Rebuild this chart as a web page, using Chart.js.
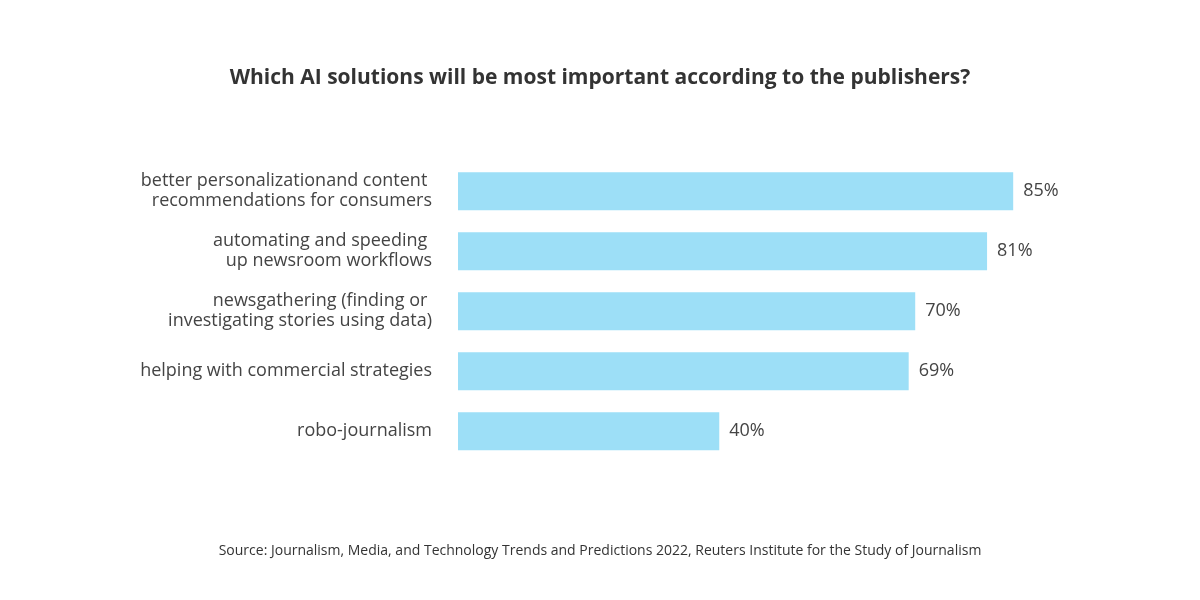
<!DOCTYPE html>
<html>
<head>
<meta charset="utf-8">
<script src="https://cdn.jsdelivr.net/npm/chart.js@4"></script>
<style>
html,body{margin:0;padding:0;background:#fff;}
#wrap{width:1200px;height:600px;position:relative;}
</style>
</head>
<body>
<div id="wrap"><canvas id="c" width="1200" height="600"></canvas></div>
<script>
const categories = [
  ["better personalizationand content ", "recommendations for consumers"],
  ["automating and speeding ", "up newsroom workflows"],
  ["newsgathering (finding or ", "investigating stories using data)"],
  "helping with commercial strategies",
  "robo-journalism"
];
const values = [85, 81, 70, 69, 40];
const valueLabels = ["85%", "81%", "70%", "69%", "40%"];
const titleText = "Which AI solutions will be most important according to the publishers?";
const sourceText = "Source: Journalism, Media, and Technology Trends and Predictions 2022, Reuters Institute for the Study of Journalism";

const valueLabelPlugin = {
  id: 'valueLabels',
  afterDatasetsDraw(chart) {
    const ctx = chart.ctx;
    const meta = chart.getDatasetMeta(0);
    ctx.save();
    ctx.font = '18px "Open Sans"';
    ctx.fillStyle = '#444444';
    ctx.textAlign = 'left';
    ctx.textBaseline = 'middle';
    meta.data.forEach((bar, i) => {
      ctx.fillText(valueLabels[i], bar.x + 10, bar.y);
    });
    ctx.restore();
  }
};

new Chart(document.getElementById('c'), {
  type: 'bar',
  data: {
    labels: categories,
    datasets: [{
      data: values,
      backgroundColor: '#9ddff7',
      borderWidth: 0,
      barPercentage: 0.633,
      categoryPercentage: 1.0
    }]
  },
  options: {
    indexAxis: 'y',
    responsive: false,
    animation: false,
    devicePixelRatio: 1,
    layout: { padding: 0 },
    plugins: {
      legend: { display: false },
      tooltip: { enabled: false },
      title: {
        display: true,
        text: titleText,
        color: '#333333',
        font: { family: '"Open Sans"', size: 21, weight: 'bold', lineHeight: 1.2 },
        padding: { top: 65, bottom: 71 }
      },
      subtitle: {
        display: true,
        position: 'bottom',
        text: sourceText,
        color: '#333333',
        font: { family: '"Open Sans"', size: 14, lineHeight: 1.2 },
        padding: { top: 81, bottom: 41 }
      }
    },
    scales: {
      x: {
        display: false,
        min: 0,
        max: 113.6
      },
      y: {
        afterFit(scale) { scale.width = 458; },
        grid: { display: false, drawTicks: false },
        border: { display: false },
        ticks: {
          color: '#444444',
          padding: 26,
          font: { family: '"Open Sans"', size: 18, lineHeight: 1.12 }
        }
      }
    }
  },
  plugins: [valueLabelPlugin]
});
</script>
</body>
</html>
